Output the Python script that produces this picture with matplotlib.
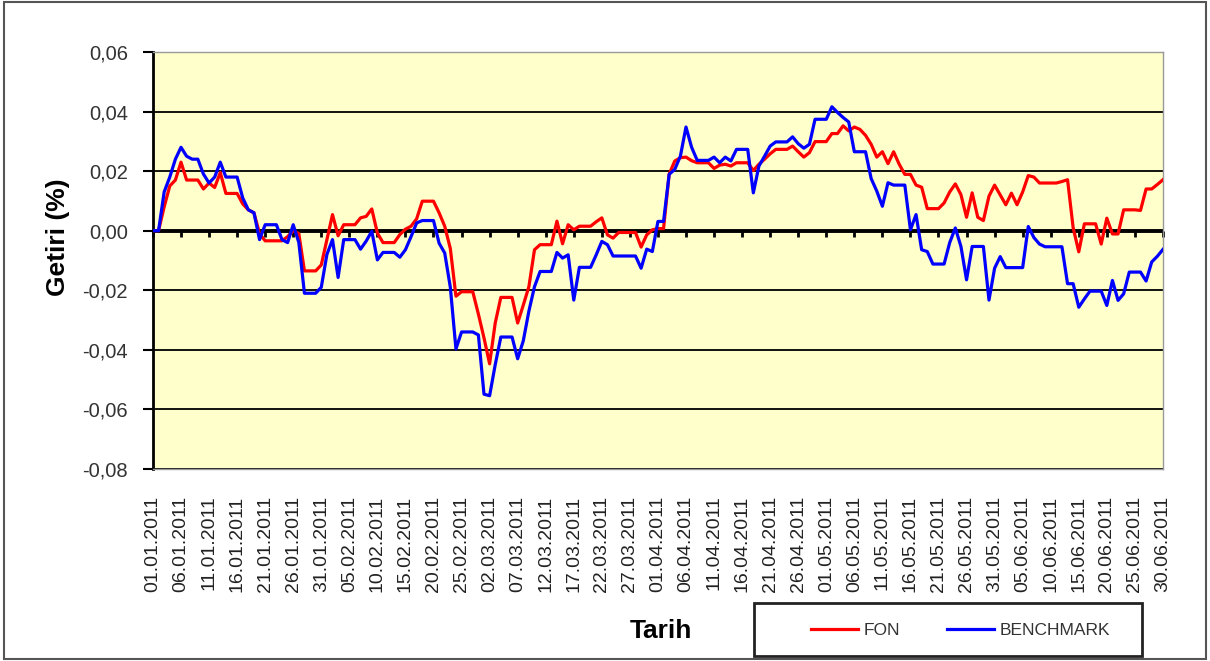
import pandas as pd
import matplotlib
matplotlib.use('Agg')
import matplotlib.pyplot as plt
from matplotlib.patches import Rectangle
from matplotlib.ticker import NullFormatter

plt.rcParams['font.family'] = ['Liberation Sans', 'DejaVu Sans']

# daily dates 01.01.2011 - 30.06.2011 (181 days)
dates = pd.date_range('2011-01-01', '2011-06-30', freq='D')
date_labels = list(dates.strftime('%d.%m.%Y'))

# FON returns
fon = [
    0.000, 0.000, 0.008, 0.015, 0.017, 0.023, 0.017, 0.017, 0.017, 0.014,
    0.016, 0.0145, 0.0195, 0.0125, 0.0125, 0.0125, 0.009, 0.007, 0.006, -0.001,
    -0.0034, -0.0034, -0.0034, -0.0034, -0.002, 0.000, -0.001, -0.0135, -0.0135, -0.0135,
    -0.0115, -0.003, 0.0054, -0.0017, 0.002, 0.002, 0.002, 0.0043, 0.0048, 0.0073,
    -0.0008, -0.004, -0.004, -0.004, -0.0013, 0.0005, 0.0015, 0.004, 0.0099, 0.0099,
    0.0099, 0.006, 0.0015, -0.006, -0.022, -0.0205, -0.0205, -0.0205, -0.028, -0.036,
    -0.0447, -0.031, -0.0224, -0.0224, -0.0224, -0.031, -0.025, -0.0188, -0.0064, -0.0047,
    -0.0047, -0.0047, 0.0032, -0.0044, 0.002, 0.0003, 0.0015, 0.0015, 0.0015, 0.003,
    0.0043, -0.0014, -0.0025, -0.0006, -0.0006, -0.0006, -0.0006, -0.0055, -0.0014, 0.0003,
    0.0007, 0.0007, 0.019, 0.0234, 0.0245, 0.0247, 0.0235, 0.0228, 0.0228, 0.0228,
    0.0209, 0.022, 0.0223, 0.0217, 0.0228, 0.0228, 0.0228, 0.0202, 0.0223, 0.024,
    0.0258, 0.0273, 0.0273, 0.0273, 0.0284, 0.0265, 0.0247, 0.0262, 0.0299, 0.0299,
    0.0299, 0.0326, 0.0326, 0.0352, 0.0335, 0.0348, 0.034, 0.032, 0.029, 0.0247,
    0.0265, 0.0225, 0.0265, 0.0223, 0.0189, 0.0189, 0.0153, 0.0146, 0.0074, 0.0074,
    0.0074, 0.0093, 0.013, 0.0157, 0.0121, 0.0045, 0.0127, 0.0045, 0.0034, 0.0116,
    0.0153, 0.012, 0.0087, 0.0126, 0.0087, 0.013, 0.0185, 0.018, 0.016, 0.016,
    0.016, 0.016, 0.0165, 0.0171, 0.001, -0.0071, 0.0023, 0.0023, 0.0023, -0.0045,
    0.0042, -0.0011, -0.0011, 0.007, 0.007, 0.007, 0.0068, 0.014, 0.014, 0.0155,
    0.0171,
]

# BENCHMARK returns
benchmark = [
    0.000, 0.000, 0.013, 0.018, 0.024, 0.028, 0.025, 0.024, 0.024, 0.019,
    0.016, 0.018, 0.023, 0.018, 0.018, 0.018, 0.011, 0.007, 0.006, -0.003,
    0.002, 0.002, 0.002, -0.003, -0.004, 0.002, -0.004, -0.021, -0.021, -0.021,
    -0.019, -0.008, -0.003, -0.0157, -0.003, -0.003, -0.003, -0.0062, -0.0035, -0.0002,
    -0.0098, -0.0073, -0.0073, -0.0073, -0.0089, -0.0064, -0.002, 0.0026, 0.0034, 0.0034,
    0.0034, -0.0042, -0.0075, -0.019, -0.0397, -0.034, -0.034, -0.034, -0.035, -0.0549,
    -0.0554, -0.045, -0.0357, -0.0357, -0.0357, -0.043, -0.037, -0.027, -0.0188, -0.0137,
    -0.0137, -0.0137, -0.0073, -0.0092, -0.0081, -0.0233, -0.0123, -0.0123, -0.0123, -0.0081,
    -0.0036, -0.0047, -0.0085, -0.0085, -0.0085, -0.0085, -0.0085, -0.0126, -0.0062, -0.007,
    0.0031, 0.0031, 0.0189, 0.0206, 0.025, 0.0348, 0.028, 0.0236, 0.0236, 0.0236,
    0.0247, 0.0228, 0.0247, 0.0234, 0.0273, 0.0273, 0.0273, 0.0127, 0.0217, 0.025,
    0.0284, 0.0298, 0.0298, 0.0298, 0.0315, 0.0292, 0.0277, 0.029, 0.0374, 0.0374,
    0.0374, 0.0416, 0.0397, 0.038, 0.0365, 0.0265, 0.0265, 0.0265, 0.0175, 0.0133,
    0.0082, 0.0161, 0.0153, 0.0153, 0.0153, 0.0003, 0.0054, -0.0064, -0.007, -0.0112,
    -0.0112, -0.0112, -0.004, 0.0009, -0.0053, -0.0165, -0.0053, -0.0053, -0.0053, -0.0233,
    -0.0126, -0.0087, -0.0124, -0.0124, -0.0124, -0.0124, 0.0014, -0.0023, -0.0045, -0.0054,
    -0.0054, -0.0054, -0.0054, -0.0178, -0.0178, -0.0257, -0.0229, -0.0203, -0.0203, -0.0203,
    -0.0251, -0.0167, -0.0234, -0.0212, -0.0139, -0.0139, -0.0139, -0.0169, -0.0105, -0.0086,
    -0.0063,
]

y_ticks = [0.06, 0.04, 0.02, 0.00, -0.02, -0.04, -0.06, -0.08]
y_tick_labels = ['0,06', '0,04', '0,02', '0,00', '-0,02', '-0,04', '-0,06', '-0,08']

days = list(range(len(dates)))
x_ticks = days[::5]
x_tick_labels = date_labels[::5]

fig = plt.figure(figsize=(12.1, 6.61), dpi=100)
ax = fig.add_axes([0.1264, 0.2905, 0.8347, 0.6309])
ax.set_facecolor('#FFFFCC')

ax.grid(axis='y', color='black', lw=1.3, zorder=1)
ax.axhline(0, color='black', lw=2.8, zorder=2)
l1, = ax.plot(days, fon, color='#FF0000', lw=2.3, zorder=3, label='FON')
l2, = ax.plot(days, benchmark, color='#0000FF', lw=2.3, zorder=4, label='BENCHMARK')

ax.set_xlim(0, 180)
ax.set_ylim(-0.08, 0.06)
ax.set_yticks(y_ticks)
ax.set_yticklabels(y_tick_labels)
ax.tick_params(axis='y', direction='out', length=7, width=1.5, pad=11,
               labelsize=14.5, labelcolor='#333333')
ax.set_xticks(x_ticks)
ax.set_xticklabels(x_tick_labels, rotation=90)
ax.tick_params(axis='x', length=0, pad=19, labelsize=14, labelcolor='#222222')

# small tick marks hanging from the zero line
sec = ax.secondary_xaxis(0.08 / 0.14)
sec.set_alignment('bottom')
sec.set_xticks(x_ticks)
sec.xaxis.set_major_formatter(NullFormatter())
sec.tick_params(direction='out', length=4, width=2, color='black')
for s in sec.spines.values():
    s.set_visible(False)

ax.spines['left'].set_color('black')
ax.spines['left'].set_linewidth(2)
for side in ['top', 'right', 'bottom']:
    ax.spines[side].set_color('#999999')
    ax.spines[side].set_linewidth(1)

ax.set_ylabel('Getiri (%)', fontsize=19, fontweight='bold')
ax.yaxis.set_label_coords(-0.082, 0.556)
ax.set_xlabel('Tarih', fontsize=19, fontweight='bold')
ax.xaxis.set_label_coords(0.503, -0.36)

# legend box at the lower right
fig.patches.append(Rectangle((754 / 1210, 5 / 661), 388 / 1210, 53 / 661,
                             transform=fig.transFigure, fill=False,
                             ec='#222222', lw=2))
fig.legend(handles=[l1, l2], loc='center left', bbox_to_anchor=(802 / 1210, 31 / 661),
           ncol=2, frameon=False, borderpad=0, fontsize=12.5,
           handlelength=2.7, handletextpad=0.35, columnspacing=2.7,
           labelcolor='#333333')

# outer border of the picture
fig.patches.append(Rectangle((4 / 1210, 2 / 661), 1202 / 1210, 657 / 661,
                             transform=fig.transFigure, fill=False,
                             ec='#555555', lw=1.5))

fig.savefig('out.png', dpi=100)
